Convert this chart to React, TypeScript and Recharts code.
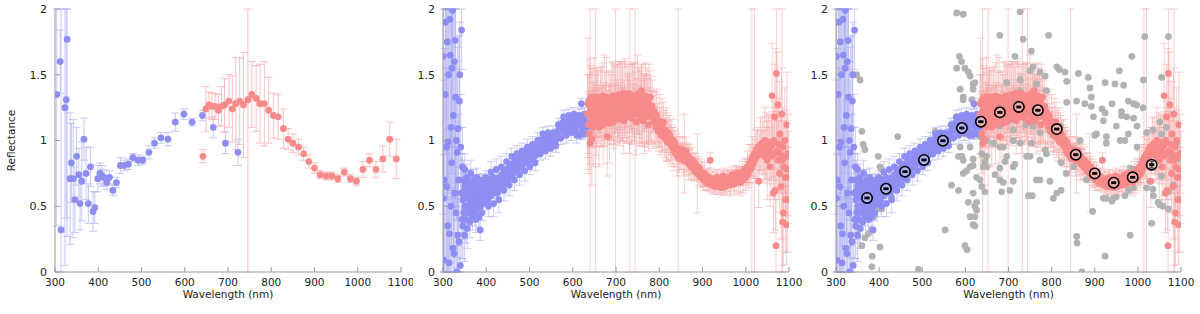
import { ScatterChart, Scatter, XAxis, YAxis, ErrorBar } from 'recharts'

const wavelengthTicks = [300, 400, 500, 600, 700, 800, 900, 1000, 1100]
const reflectanceTicks = [0, 0.5, 1, 1.5, 2]

// [wavelength (nm), reflectance, error]
const coarseBlue = [
  [304, 1.35, 1.0], [312, 1.6, 0.24], [314, 0.32, 2.0], [323, 1.25, 1.2], [326, 1.31, 0.9], [328, 1.77, 1.5],
  [335, 0.71, 0.5], [338, 0.83, 0.3], [342, 0.71, 0.45], [346, 0.55, 0.25], [350, 0.88, 0.22], [355, 0.74, 0.2],
  [358, 0.52, 0.2], [362, 0.69, 0.3], [367, 1.01, 0.16], [372, 0.75, 0.2], [377, 0.52, 0.15], [382, 0.8, 0.15],
  [388, 0.46, 0.15], [392, 0.49, 0.12], [399, 0.71, 0.1], [404, 0.75, 0.08], [409, 0.73, 0.08], [413, 0.72, 0.06],
  [420, 0.68, 0.05], [426, 0.72, 0.05], [434, 0.62, 0.04], [442, 0.68, 0.04], [451, 0.81, 0.06], [460, 0.81, 0.04],
  [470, 0.82, 0.04], [480, 0.87, 0.03], [492, 0.85, 0.04], [503, 0.85, 0.03], [517, 0.91, 0.05], [530, 0.98, 0.04],
  [545, 1.02, 0.04], [561, 1.01, 0.05], [578, 1.14, 0.07], [598, 1.2, 0.04], [617, 1.14, 0.03], [641, 1.19, 0.04],
  [666, 1.1, 0.08], [694, 0.98, 0.08], [723, 0.91, 0.1],
]

const coarseRed = [
  [642, 0.88, 0.05], [649, 1.24, 0.17], [656, 1.27, 0.1], [663, 1.26, 0.1], [670, 1.26, 0.1], [678, 1.23, 0.12],
  [685, 1.26, 0.15], [692, 1.27, 0.2], [702, 1.3, 0.2], [710, 1.24, 0.25], [718, 1.28, 0.35], [727, 1.3, 0.33],
  [736, 1.27, 0.4], [746, 1.31, 1.4], [755, 1.35, 0.25], [765, 1.32, 0.25], [774, 1.28, 0.3], [784, 1.28, 0.32],
  [794, 1.23, 0.25], [805, 1.19, 0.17], [816, 1.18, 0.17], [828, 1.09, 0.15], [839, 1.01, 0.08], [850, 0.98, 0.07],
  [863, 0.95, 0.06], [875, 0.9, 0.05], [887, 0.84, 0.05], [900, 0.79, 0.04], [913, 0.74, 0.03], [927, 0.73, 0.03],
  [940, 0.73, 0.03], [954, 0.71, 0.03], [969, 0.76, 0.03], [983, 0.71, 0.03], [997, 0.69, 0.03], [1012, 0.78, 0.06],
  [1027, 0.85, 0.05], [1042, 0.78, 0.06], [1058, 0.86, 0.1], [1074, 1.01, 0.13], [1089, 0.86, 0.15],
]

const fineBlue = [
  [301, 1.64, 1.2], [301, 0.56, 0.9], [302, 0.09, 0.8], [303, 0.7, 1.0], [305, 1.35, 1.5], [306, 1.9, 1.0],
  [308, 0.95, 1.1], [309, 0.65, 0.9], [310, 1.75, 1.2], [311, 0.35, 0.6], [312, 0.99, 1.0], [313, 1.5, 0.9],
  [314, 0.07, 0.5], [315, 0.29, 0.8], [316, 1.92, 1.3], [317, 1.65, 0.7], [318, 0.5, 0.6], [319, 1.1, 0.9],
  [320, 0.83, 1.2], [321, 1.55, 0.8], [322, 1.99, 1.5], [323, 0.18, 0.4], [324, 1.19, 1.0], [325, 0.14, 0.5],
  [326, 1.6, 1.1], [327, 0.6, 0.7], [328, 1.76, 1.2], [329, 1.33, 0.9], [330, 0.45, 0.5], [331, 1.0, 0.6],
  [332, 0.0, 0.3], [333, 0.91, 0.8], [334, 0.28, 0.4], [335, 1.09, 0.7], [336, 0.7, 0.5], [337, 0.23, 0.3],
  [338, 1.3, 0.5], [339, 1.5, 0.4], [340, 0.05, 0.2], [341, 0.95, 0.4], [342, 0.6, 0.3], [343, 1.84, 0.3],
  [344, 0.4, 0.3], [345, 0.8, 0.3],
  [346, 0.55, 0.2], [346, 0.35, 0.25], [347, 0.7, 0.15], [348, 0.45, 0.2], [349, 0.62, 0.15], [350, 0.28, 0.2],
  [350, 0.78, 0.12], [351, 0.5, 0.15], [352, 0.66, 0.12], [353, 0.4, 0.18], [354, 0.58, 0.1], [355, 0.72, 0.1],
  [356, 0.33, 0.15], [357, 0.5, 0.12], [358, 0.62, 0.1], [359, 0.45, 0.1], [360, 0.68, 0.1], [361, 0.55, 0.1],
  [362, 0.38, 0.12], [363, 0.6, 0.08], [364, 0.75, 0.1], [365, 0.48, 0.1], [366, 0.58, 0.08], [367, 0.66, 0.08],
  [368, 0.42, 0.1], [369, 0.53, 0.08], [370, 0.62, 0.08], [371, 0.7, 0.08], [372, 0.5, 0.08], [373, 0.45, 0.1],
  [374, 0.58, 0.07], [375, 0.66, 0.07], [376, 0.4, 0.1], [377, 0.55, 0.07], [378, 0.72, 0.07], [379, 0.6, 0.06],
  [380, 0.48, 0.08], [381, 0.52, 0.06], [382, 0.65, 0.06], [383, 0.42, 0.08], [384, 0.58, 0.06], [385, 0.68, 0.06],
  [386, 0.32, 0.08], [387, 0.5, 0.06], [388, 0.62, 0.05], [389, 0.56, 0.05], [390, 0.45, 0.06], [391, 0.7, 0.05],
  [392, 0.6, 0.05], [393, 0.52, 0.05], [394, 0.64, 0.05], [395, 0.58, 0.05], [396, 0.68, 0.05], [397, 0.55, 0.05],
  [398, 0.62, 0.05], [399, 0.72, 0.05],
  [400, 0.6, 0.05], [402, 0.68, 0.05], [404, 0.55, 0.05], [406, 0.64, 0.04], [408, 0.7, 0.04], [410, 0.58, 0.04],
  [412, 0.66, 0.04], [414, 0.62, 0.04], [416, 0.72, 0.04], [418, 0.6, 0.04], [420, 0.67, 0.04], [422, 0.63, 0.03],
  [424, 0.7, 0.03], [426, 0.6, 0.03], [428, 0.66, 0.03], [430, 0.72, 0.03], [432, 0.64, 0.03], [434, 0.69, 0.03],
  [436, 0.74, 0.03], [438, 0.66, 0.03], [440, 0.71, 0.03],
  [442, 0.76, 0.03], [444, 0.68, 0.03], [446, 0.73, 0.03], [448, 0.78, 0.03], [450, 0.7, 0.03], [452, 0.75, 0.03],
  [454, 0.8, 0.03], [456, 0.72, 0.03], [458, 0.77, 0.03], [460, 0.82, 0.03], [462, 0.75, 0.03], [464, 0.79, 0.03],
  [466, 0.84, 0.03], [468, 0.77, 0.03], [470, 0.81, 0.03], [472, 0.86, 0.03], [474, 0.79, 0.03], [476, 0.83, 0.03],
  [478, 0.87, 0.03], [480, 0.8, 0.03], [482, 0.85, 0.03], [484, 0.82, 0.03], [486, 0.88, 0.03], [488, 0.84, 0.03],
  [490, 0.86, 0.03], [492, 0.9, 0.03], [494, 0.83, 0.03], [496, 0.87, 0.03], [498, 0.91, 0.03], [500, 0.85, 0.03],
  [502, 0.88, 0.03], [504, 0.92, 0.03], [506, 0.86, 0.03], [508, 0.9, 0.03], [510, 0.94, 0.03], [512, 0.88, 0.03],
  [514, 0.91, 0.03], [516, 0.95, 0.03], [518, 0.9, 0.03], [520, 0.93, 0.03],
  [522, 0.96, 0.03], [524, 0.99, 0.03], [526, 0.95, 0.03], [528, 1.0, 0.03], [530, 0.97, 0.03], [532, 1.01, 0.03],
  [534, 0.98, 0.03], [536, 1.0, 0.03], [538, 0.96, 0.03], [540, 1.02, 0.03], [542, 0.99, 0.03], [544, 1.01, 0.03],
  [546, 0.97, 0.03], [548, 1.0, 0.03], [550, 1.02, 0.03], [552, 0.98, 0.03], [554, 1.01, 0.03], [556, 0.99, 0.03],
  [558, 1.03, 0.03], [560, 1.0, 0.03], [562, 1.04, 0.03], [564, 1.06, 0.03], [566, 1.02, 0.03], [568, 1.08, 0.03],
  [570, 1.1, 0.03], [572, 1.07, 0.03], [574, 1.12, 0.03],
  [576, 1.09, 0.03], [578, 1.14, 0.03], [580, 1.1, 0.03], [582, 1.15, 0.03], [584, 1.12, 0.03], [586, 1.08, 0.03],
  [588, 1.13, 0.03], [590, 1.16, 0.03], [592, 1.1, 0.03], [594, 1.14, 0.03], [596, 1.12, 0.03], [598, 1.17, 0.03],
  [600, 1.11, 0.03], [602, 1.08, 0.03], [604, 1.14, 0.03], [606, 1.1, 0.03], [608, 1.16, 0.03], [610, 1.12, 0.03],
  [612, 1.06, 0.03], [614, 1.15, 0.03], [616, 1.04, 0.03], [618, 1.13, 0.03], [620, 1.28, 0.04], [622, 1.1, 0.03],
  [624, 1.17, 0.03], [626, 1.05, 0.03], [628, 1.14, 0.03], [630, 1.19, 0.03], [632, 1.1, 0.03],
  [405, 0.5, 0.08], [411, 0.76, 0.08], [417, 0.52, 0.1], [423, 0.78, 0.08], [429, 0.55, 0.1], [435, 0.8, 0.08],
  [441, 0.62, 0.08], [447, 0.84, 0.06], [453, 0.66, 0.08], [459, 0.88, 0.06], [465, 0.7, 0.08], [471, 0.9, 0.06],
  [477, 0.74, 0.08], [483, 0.92, 0.06], [489, 0.77, 0.08], [495, 0.95, 0.06], [501, 0.8, 0.06], [507, 0.97, 0.06],
  [513, 0.83, 0.06], [519, 1.0, 0.06], [525, 0.9, 0.05], [531, 1.05, 0.05], [537, 0.92, 0.06], [543, 1.06, 0.05],
  [549, 0.94, 0.06], [555, 1.06, 0.05], [561, 0.96, 0.05], [567, 1.12, 0.05], [573, 1.02, 0.05], [579, 1.18, 0.05],
  [585, 1.04, 0.06], [591, 1.19, 0.05], [597, 1.06, 0.06], [603, 1.2, 0.05], [609, 1.04, 0.06], [615, 1.19, 0.05],
  [621, 1.06, 0.05], [627, 1.2, 0.05],
]

const fineRed = [
  [634, 1.2, 0.3], [635, 1.28, 0.5], [636, 1.12, 0.25], [637, 1.3, 0.2], [638, 1.05, 0.3], [639, 1.22, 0.4],
  [640, 0.98, 1.5], [641, 1.32, 0.25], [642, 1.15, 0.2], [643, 1.25, 0.3], [644, 1.01, 0.35], [645, 1.18, 0.2],
  [646, 1.3, 0.25], [647, 1.1, 0.3], [648, 1.24, 0.2], [649, 1.33, 0.3], [650, 1.16, 0.2], [651, 1.27, 0.25],
  [652, 1.12, 0.3], [653, 1.2, 1.5], [654, 1.3, 0.2], [655, 1.14, 0.25], [656, 1.25, 0.3], [657, 1.33, 0.2],
  [658, 1.18, 0.2], [660, 1.28, 0.25], [661, 1.1, 0.3], [662, 1.22, 0.2], [664, 1.31, 0.25], [665, 1.15, 0.2],
  [666, 1.26, 0.3], [668, 1.2, 0.2], [669, 1.34, 0.25], [670, 1.12, 0.3], [672, 1.24, 0.2], [673, 1.3, 0.35],
  [674, 1.16, 0.2], [676, 1.27, 0.25], [677, 1.21, 0.2], [678, 1.33, 0.3], [680, 1.03, 0.3], [681, 1.18, 0.2],
  [682, 1.28, 0.25], [684, 1.22, 0.2], [685, 1.13, 0.3], [686, 1.32, 0.2], [688, 1.25, 0.25], [689, 1.17, 0.2],
  [690, 1.3, 0.3], [692, 1.21, 0.2], [693, 1.34, 0.25], [694, 1.14, 0.2], [696, 1.27, 0.3], [697, 1.23, 0.2],
  [698, 1.31, 0.25], [699, 1.18, 1.5], [700, 1.26, 0.2],
  [702, 1.33, 0.25], [703, 1.19, 0.2], [704, 1.28, 0.3], [706, 1.22, 0.2], [707, 1.35, 0.25], [708, 1.16, 0.2],
  [710, 1.3, 0.3], [711, 1.24, 0.2], [712, 1.33, 0.25], [714, 1.2, 0.2], [715, 1.29, 0.3], [716, 1.36, 0.2],
  [718, 1.15, 0.25], [719, 1.26, 0.2], [720, 1.32, 0.3], [722, 1.22, 0.2], [723, 1.35, 0.25], [724, 1.18, 0.2],
  [726, 1.28, 0.3], [727, 1.31, 0.2], [728, 1.24, 0.25], [730, 1.36, 0.2], [731, 1.2, 0.3], [732, 1.3, 1.5],
  [734, 1.26, 0.2], [735, 1.33, 0.25], [736, 1.17, 0.2], [738, 1.28, 0.3], [739, 1.23, 0.2], [740, 1.34, 0.25],
  [742, 1.2, 0.2], [743, 1.29, 0.3], [744, 1.25, 1.5], [746, 1.32, 0.2], [747, 1.14, 0.25], [748, 1.27, 0.2],
  [750, 1.35, 0.3], [751, 1.22, 0.2], [752, 1.3, 0.25], [754, 1.18, 0.2], [755, 1.26, 0.3], [756, 1.33, 0.2],
  [758, 1.21, 0.25], [759, 1.38, 0.2], [760, 1.28, 0.3], [762, 1.15, 0.2], [763, 1.24, 0.25], [764, 1.31, 0.2],
  [766, 1.2, 0.3], [767, 1.27, 0.2], [768, 1.34, 0.25], [770, 1.18, 0.2], [771, 1.25, 0.3], [772, 1.3, 0.2],
  [774, 1.22, 0.25], [775, 1.12, 0.2], [776, 1.28, 0.3], [778, 1.2, 0.2], [779, 1.33, 0.2], [780, 1.24, 0.25],
  [782, 1.18, 0.2], [784, 1.26, 0.2], [786, 1.14, 0.2], [788, 1.22, 0.15], [790, 1.17, 0.2], [792, 1.1, 0.15],
  [794, 1.19, 0.2], [796, 1.13, 0.15], [798, 1.07, 0.15], [800, 1.15, 0.2], [802, 1.1, 0.15], [804, 1.04, 0.15],
  [806, 1.12, 0.2], [808, 1.06, 0.15], [810, 1.14, 0.15], [812, 1.02, 0.15], [814, 1.08, 0.15], [816, 1.05, 0.2],
  [818, 0.99, 0.15], [820, 1.06, 0.15], [822, 1.0, 0.15], [824, 1.04, 0.15], [826, 0.97, 0.15], [828, 1.01, 0.15],
  [830, 0.95, 0.15], [832, 1.0, 0.1], [834, 0.92, 0.15], [836, 0.98, 0.1], [838, 0.9, 0.1], [840, 0.95, 0.1],
  [842, 0.88, 0.15], [844, 0.94, 1.5], [846, 0.86, 0.1], [848, 0.92, 0.1], [850, 0.88, 0.1],
  [852, 0.88, 0.1], [854, 0.93, 0.1], [856, 0.85, 0.12], [858, 0.9, 0.3], [860, 0.86, 0.1], [862, 0.92, 0.1],
  [864, 0.84, 0.1], [866, 0.88, 0.1], [868, 0.82, 0.12], [870, 0.87, 0.1], [872, 0.83, 0.1], [874, 0.8, 0.1],
  [876, 0.85, 0.1], [878, 0.79, 0.08], [880, 0.83, 0.08], [882, 0.77, 0.08], [884, 0.82, 0.08], [886, 0.78, 0.08],
  [888, 0.75, 0.3], [890, 0.8, 0.08], [892, 0.74, 0.08], [894, 0.78, 0.08], [896, 0.72, 0.08], [898, 0.76, 0.08],
  [900, 0.73, 0.08], [902, 0.7, 0.08], [904, 0.75, 0.08], [906, 0.71, 0.06], [908, 0.68, 0.06], [910, 0.73, 0.06],
  [912, 0.69, 0.06], [914, 0.72, 0.06], [916, 0.67, 0.06], [918, 0.85, 0.06], [920, 0.7, 0.06], [922, 0.66, 0.06],
  [924, 0.71, 0.06], [926, 0.68, 0.06], [928, 0.65, 0.06], [930, 0.7, 0.06],
  [932, 0.67, 0.06], [934, 0.72, 0.06], [936, 0.65, 0.06], [938, 0.69, 0.06], [940, 0.66, 0.06], [942, 0.71, 0.06],
  [944, 0.64, 0.06], [946, 0.68, 0.06], [948, 0.73, 0.06], [950, 0.66, 0.06], [952, 0.7, 0.06], [954, 0.65, 0.06],
  [956, 0.69, 0.08], [958, 0.72, 0.06], [960, 0.67, 0.06], [962, 0.71, 0.06], [964, 0.66, 0.08], [966, 0.7, 0.06],
  [968, 0.74, 0.06], [970, 0.68, 0.06], [972, 0.72, 0.06], [974, 0.67, 0.08], [976, 0.71, 0.06], [978, 0.75, 0.06],
  [980, 0.69, 0.08], [982, 0.73, 0.06], [984, 0.7, 0.1], [986, 0.74, 0.06], [988, 0.68, 0.1], [990, 0.72, 0.06],
  [992, 0.76, 0.08], [994, 0.7, 0.1], [996, 0.74, 0.06], [998, 0.78, 0.08], [1000, 0.72, 0.1],
  [1002, 0.76, 0.1], [1004, 0.8, 0.12], [1006, 0.74, 0.1], [1008, 0.82, 0.15], [1010, 0.78, 0.1], [1012, 0.85, 0.12],
  [1014, 0.8, 1.5], [1016, 0.88, 0.15], [1018, 0.83, 0.12], [1020, 0.9, 1.5], [1022, 0.86, 0.15], [1024, 0.93, 0.15],
  [1026, 0.88, 0.2], [1028, 0.95, 0.15], [1030, 0.69, 0.2], [1032, 0.9, 0.15], [1034, 0.97, 0.2], [1036, 0.92, 0.15],
  [1038, 0.98, 0.2], [1040, 0.94, 0.2],
  [1042, 0.88, 0.2], [1044, 1.0, 0.25], [1046, 0.9, 0.2], [1048, 0.96, 0.25], [1050, 0.85, 0.3], [1052, 0.99, 0.2],
  [1054, 0.92, 0.25], [1056, 0.8, 0.3], [1058, 0.95, 0.25], [1060, 0.88, 0.3], [1061, 1.34, 0.4], [1062, 0.97, 0.25],
  [1064, 0.6, 0.3], [1065, 1.0, 0.3], [1066, 0.9, 0.35], [1067, 1.18, 0.4], [1068, 0.62, 0.3], [1070, 0.2, 1.5],
  [1071, 1.51, 0.5], [1072, 0.92, 0.3], [1074, 1.27, 0.4], [1075, 0.85, 0.3], [1076, 0.97, 0.35], [1078, 0.75, 0.3],
  [1079, 1.05, 0.4], [1080, 0.9, 0.3], [1082, 0.65, 0.4], [1083, 1.2, 0.35], [1084, 0.85, 1.5], [1085, 0.38, 0.4],
  [1086, 0.95, 0.3], [1087, 0.45, 0.4], [1088, 0.8, 0.35], [1090, 1.0, 0.4], [1091, 0.72, 0.3], [1092, 0.55, 0.4],
  [1093, 0.88, 0.35], [1094, 0.36, 0.3], [1095, 1.12, 0.4], [1096, 0.78, 0.35], [1097, 0.55, 0.4], [1098, 0.9, 0.3],
  [1099, 0.72, 0.35],
]

// [wavelength (nm), reflectance]
const grayPoints = [
  [348, 1.5], [356, 1.46], [360, 1.07], [363, 0.97], [367, 0.93], [360, 0.56], [371, 0.65], [360, 0.2], [367, 0.26],
  [375, 0.29], [383, 0.32], [384, 0.12], [383, 0.04], [390, 0.43], [379, 0.45], [395, 0.48], [398, 0.61], [398, 0.88],
  [402, 0.8], [402, 0.19], [406, 0.48], [406, 0.78], [429, 0.57], [441, 0.69], [443, 1.03], [491, 0.02], [518, 1.0],
  [530, 1.07], [553, 0.32], [568, 0.66], [580, 1.97], [595, 1.96], [586, 1.64], [591, 1.6], [580, 1.55], [599, 1.55],
  [607, 1.52], [611, 1.49], [618, 1.43], [622, 1.44], [588, 1.39], [618, 1.39], [595, 1.33], [595, 1.31], [615, 1.31],
  [580, 1.18], [611, 1.16], [622, 1.11], [634, 1.11], [588, 0.95], [599, 1.05], [638, 1.19], [592, 0.88], [584, 0.88],
  [611, 0.95], [646, 1.0], [634, 1.03], [618, 0.86], [595, 0.85], [642, 0.8], [611, 0.8], [603, 0.77], [595, 0.75],
  [618, 0.81], [626, 0.72], [634, 0.7], [638, 0.9], [584, 0.62], [618, 0.6], [607, 0.53], [626, 0.53], [622, 0.5],
  [626, 0.47], [611, 0.42], [622, 0.42], [618, 0.36], [622, 0.35], [599, 0.2], [604, 0.17], [645, 0.61], [645, 0.84],
  [650, 0.8], [638, 0.65], [649, 0.88], [665, 0.98], [669, 0.74], [680, 0.95], [680, 0.79], [680, 0.7], [684, 0.61],
  [688, 0.95], [688, 0.68], [692, 0.84], [696, 0.88], [703, 0.62], [711, 1.0], [711, 0.8], [711, 0.69], [715, 0.82],
  [727, 0.98], [742, 0.88], [746, 0.58], [750, 0.88], [755, 0.58], [753, 0.98], [765, 0.7], [773, 0.85], [773, 0.7],
  [785, 0.93], [788, 0.9], [796, 1.07], [796, 0.69], [804, 0.56], [812, 0.6], [820, 1.11], [822, 0.83], [822, 0.62],
  [831, 1.0], [834, 0.75], [847, 0.92], [851, 0.8], [858, 0.27], [859, 0.22], [870, 0.0], [881, 0.7], [866, 1.0],
  [895, 0.46], [900, 1.04], [904, 1.05], [920, 1.15], [920, 0.56], [924, 0.12], [924, 1.21], [927, 1.03], [927, 0.98],
  [927, 0.56], [940, 0.54], [943, 0.56], [950, 1.11], [950, 0.57], [959, 1.0], [962, 1.22], [962, 1.19], [970, 1.0],
  [970, 0.58], [974, 1.18], [978, 1.05], [978, 1.3], [978, 0.62], [982, 0.28], [983, 0.79], [990, 1.28], [990, 1.17],
  [990, 0.64], [997, 1.27], [998, 1.11], [998, 0.95], [1009, 0.8], [1009, 0.76], [1012, 1.25], [1020, 1.06],
  [1020, 0.64], [1028, 0.69], [1032, 0.37], [1035, 1.08], [1035, 0.63], [1036, 0.58], [1047, 0.53], [1051, 1.14],
  [1051, 0.51], [1055, 1.05], [1055, 0.73], [1058, 0.5], [1055, 0.93], [1066, 1.1], [1071, 0.48], [1071, 0.61],
  [1078, 0.87], [1082, 0.88], [1082, 0.66], [1090, 0.98], [1094, 0.86], [1097, 0.9],
  [665, 1.32], [680, 1.8], [696, 1.44], [715, 1.64], [727, 1.98], [727, 1.46], [727, 1.38], [734, 1.77], [750, 1.53],
  [753, 1.68], [757, 1.56], [765, 1.43], [773, 1.52], [785, 1.49], [788, 1.38], [793, 1.8], [812, 1.56], [818, 1.54],
  [831, 1.52], [835, 1.45], [835, 1.29], [858, 1.3], [862, 1.51], [877, 1.28], [885, 1.48], [889, 1.4], [892, 1.33],
  [892, 1.26], [897, 1.18], [917, 1.24], [924, 1.44], [940, 1.28], [947, 1.43], [957, 1.53], [967, 1.42], [986, 1.64],
  [1013, 1.46], [1016, 1.79], [1055, 1.48], [1071, 1.79],
  [680, 1.11], [711, 1.08], [757, 1.11], [773, 1.06], [700, 1.15], [740, 1.12], [650, 1.0],
]

// binned means: [wavelength (nm), reflectance, error]
const binnedPoints = [
  [372, 0.563, 0.008], [416, 0.633, 0.008], [460, 0.763, 0.008], [504, 0.852, 0.008], [548, 0.998, 0.008],
  [592, 1.095, 0.008], [636, 1.143, 0.008], [680, 1.214, 0.008], [724, 1.255, 0.008], [768, 1.23, 0.008],
  [812, 1.087, 0.008], [856, 0.892, 0.008], [900, 0.75, 0.008], [944, 0.679, 0.008], [988, 0.72, 0.008],
  [1032, 0.816, 0.025],
]

const Y_MIN = 0
const Y_MAX = 2

// error bars are cut at the frame, as the plot range does
const toPts = (rows: number[][]) =>
  rows.map(([x, y, e = 0]) => ({ x, y, e: [Math.min(e, y - Y_MIN), Math.min(e, Y_MAX - y)] }))

const FONT = 'DejaVu Sans'
const FRAME = '#9a9a9a'
const INK = '#222'
const BLUE = '#8e8ef2'
const RED = '#f78a8a'
const GRAY = '#b2b2b2'

const dot = (fill: string, r = 3.4) => (p: any) => <circle cx={p.cx} cy={p.cy} r={r} fill={fill} />
const ring = (p: any) => (
  <g>
    <circle cx={p.cx} cy={p.cy} r={5.2} fill="#fff" fillOpacity={0.3} stroke="#000" strokeWidth={1.6} />
    <rect x={p.cx - 2.6} y={p.cy - 1.4} width={5.2} height={2.8} fill="#000" />
  </g>
)

const tickStyle = { fontSize: 10.5, fill: INK, fontFamily: FONT }
const yTickStyle = { fontSize: 11, fill: INK, fontFamily: FONT }

function XTitle({ viewBox }: any) {
  return (
    <text x={viewBox.x + viewBox.width / 2} y={298} textAnchor="middle" fontSize={10.5} fontFamily={FONT} fill={INK}>
      Wavelength (nm)
    </text>
  )
}

function YTitle({ viewBox }: any) {
  const cy = viewBox.y + viewBox.height / 2
  return (
    <text x={15} y={cy} transform={`rotate(-90, 15, ${cy})`} textAnchor="middle" fontSize={10.5} fontFamily={FONT} fill={INK}>
      Reflectance
    </text>
  )
}

function Panel({ left, width, axisWidth, right, yTitle, children }: any) {
  return (
    <div style={{ position: 'absolute', left, top: 0 }}>
      <ScatterChart width={width} height={314} margin={{ top: 9, right, bottom: 0, left: 0 }}>
        <XAxis
          type="number" dataKey="x" domain={[300, 1100]} ticks={wavelengthTicks} allowDataOverflow
          height={42} tickSize={-5} tickMargin={12} axisLine={{ stroke: FRAME }} tickLine={{ stroke: FRAME }}
          tick={tickStyle} interval={0} label={<XTitle />}
        />
        <XAxis
          xAxisId="top" orientation="top" type="number" domain={[300, 1100]} ticks={wavelengthTicks}
          allowDataOverflow height={0} tickSize={-5} tick={false} axisLine={{ stroke: FRAME }} tickLine={{ stroke: FRAME }}
        />
        <YAxis
          type="number" dataKey="y" domain={[Y_MIN, Y_MAX]} ticks={reflectanceTicks} allowDataOverflow width={axisWidth}
          tickSize={-5} tickMargin={13} axisLine={{ stroke: FRAME }} tickLine={{ stroke: FRAME }} tick={yTickStyle}
          interval={0} label={yTitle ? <YTitle /> : undefined}
        />
        <YAxis
          yAxisId="right" orientation="right" type="number" domain={[Y_MIN, Y_MAX]} ticks={reflectanceTicks}
          allowDataOverflow width={0} tickSize={-5} tick={false} axisLine={{ stroke: FRAME }} tickLine={{ stroke: FRAME }}
        />
        {children}
      </ScatterChart>
    </div>
  )
}

export default function App() {
  return (
    <div style={{ position: 'absolute', left: 0, top: 0, width: 1200, height: 314, background: '#fff' }}>
      <Panel left={0} width={413} axisWidth={55} right={12} yTitle>
        <Scatter data={toPts(coarseBlue)} shape={dot(BLUE)} isAnimationActive={false}>
          <ErrorBar dataKey="e" direction="y" width={4} stroke="#b0b0f3" strokeOpacity={0.7} strokeWidth={1} />
        </Scatter>
        <Scatter data={toPts(coarseRed)} shape={dot(RED)} isAnimationActive={false}>
          <ErrorBar dataKey="e" direction="y" width={4} stroke="#f4a8a8" strokeOpacity={0.7} strokeWidth={1} />
        </Scatter>
      </Panel>
      <Panel left={413} width={390} axisWidth={30} right={14}>
        <Scatter data={toPts(fineBlue)} shape={dot(BLUE)} isAnimationActive={false}>
          <ErrorBar dataKey="e" direction="y" width={4} stroke="#9d9df2" strokeOpacity={0.5} strokeWidth={1} />
        </Scatter>
        <Scatter data={toPts(fineRed)} shape={dot(RED)} isAnimationActive={false}>
          <ErrorBar dataKey="e" direction="y" width={4} stroke="#f4a0a0" strokeOpacity={0.5} strokeWidth={1} />
        </Scatter>
      </Panel>
      <Panel left={803} width={397} axisWidth={33} right={19}>
        <Scatter data={toPts(grayPoints)} shape={dot(GRAY)} isAnimationActive={false} />
        <Scatter data={toPts(fineBlue)} shape={dot(BLUE)} isAnimationActive={false}>
          <ErrorBar dataKey="e" direction="y" width={4} stroke="#9d9df2" strokeOpacity={0.5} strokeWidth={1} />
        </Scatter>
        <Scatter data={toPts(fineRed)} shape={dot(RED)} isAnimationActive={false}>
          <ErrorBar dataKey="e" direction="y" width={4} stroke="#f4a0a0" strokeOpacity={0.5} strokeWidth={1} />
        </Scatter>
        <Scatter data={toPts(binnedPoints)} shape={ring} isAnimationActive={false}>
          <ErrorBar dataKey="e" direction="y" width={2.5} stroke="#000" strokeWidth={1.4} />
        </Scatter>
      </Panel>
    </div>
  )
}
